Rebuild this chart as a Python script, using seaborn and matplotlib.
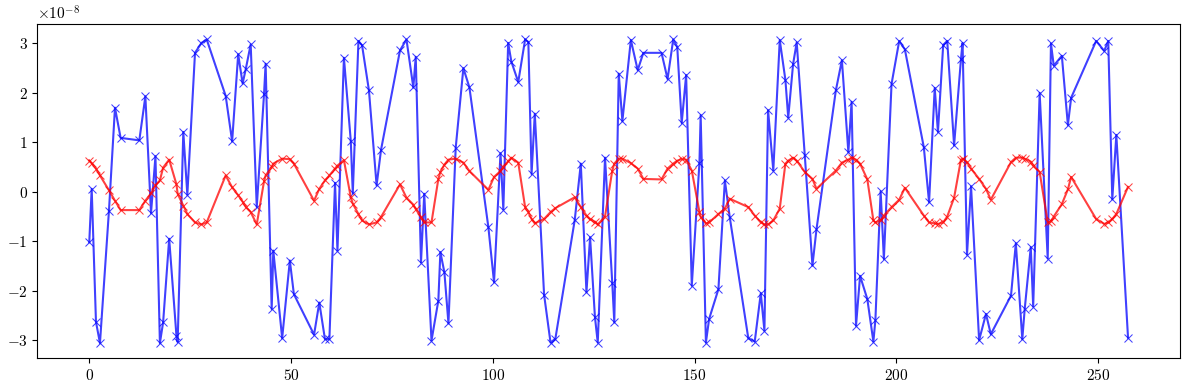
import numpy as np
import pandas as pd
import matplotlib
matplotlib.use("Agg")
import matplotlib.pyplot as plt
import seaborn as sns

SCALE = 1e-8
x_vals = [0.0, 0.6, 1.66, 2.65, 4.88, 6.37, 7.77, 12.4, 13.9, 15.3, 16.4, 17.5, 18.3, 19.8, 21.6, 21.9,
          23.3, 24.3, 26.2, 27.8, 29.1, 33.8, 35.4, 36.9, 38.0, 38.8, 40.0, 41.5, 43.3, 43.7, 45.2, 45.6,
          47.8, 49.7, 50.7, 55.7, 57.0, 58.4, 59.5, 60.9, 61.5, 63.1, 64.8, 65.3, 66.7, 67.6, 69.3, 71.2,
          72.3, 77.0, 78.6, 80.3, 80.9, 82.2, 83.0, 84.8, 86.5, 87.0, 88.0, 89.0, 90.8, 92.7, 94.2, 98.9,
          100.3, 101.9, 102.6, 103.8, 104.6, 106.3, 108.0, 108.8, 109.6, 110.4, 112.7, 114.3, 115.5, 120.3,
          121.8, 123.2, 124.1, 125.3, 126.0, 127.8, 129.6, 130.1, 131.2, 132.1, 134.2, 135.9, 137.3, 141.8,
          143.3, 144.7, 145.7, 146.8, 147.9, 149.3, 151.2, 151.5, 152.8, 153.6, 155.9, 157.5, 158.7, 163.3,
          164.9, 166.4, 167.3, 168.2, 169.5, 171.1, 172.5, 173.2, 174.4, 175.3, 177.3, 179.2, 180.2, 185.0,
          186.5, 188.1, 188.9, 190.0, 191.0, 192.8, 194.3, 194.8, 196.1, 196.9, 198.8, 200.7, 202.1, 206.8,
          208.1, 209.5, 210.3, 211.6, 212.6, 214.3, 216.0, 216.4, 217.5, 218.5, 220.5, 222.2, 223.4, 228.4,
          229.6, 231.2, 231.8, 233.3, 233.9, 235.5, 237.5, 238.3, 239.0, 241.0, 242.5, 243.3, 249.5, 251.5,
          252.5, 253.5, 254.5, 257.4]
blue_vals = [-1.02, 0.06, -2.63, -3.06, -0.38, 1.70, 1.09, 1.04, 1.93, -0.43, 0.72, -3.06, -2.64, -0.95, -2.91, -3.04,
             1.21, -0.06, 2.81, 3.01, 3.08, 1.94, 1.02, 2.78, 2.19, 2.49, 2.98, -0.31, 1.97, 2.59, -2.37, -1.19,
             -2.96, -1.39, -2.07, -2.89, -2.24, -2.98, -2.98, 0.18, -1.19, 2.71, 1.03, -0.03, 3.05, 2.96, 2.05, 0.13,
             0.85, 2.86, 3.08, 2.11, 2.73, -1.43, -0.04, -3.01, -2.20, -1.22, -1.63, -2.66, 0.89, 2.50, 2.11, -0.72,
             -1.83, 0.78, -0.36, 3.01, 2.63, 2.22, 3.08, 3.03, 0.36, 1.58, -2.08, -3.05, -2.97, -0.57,
             0.57, -2.03, -0.92, -2.53, -3.05, 0.69, -1.85, -2.64, 2.39, 1.43, 3.07, 2.46, 2.81, 2.81,
             2.28, 3.08, 2.93, 1.39, 2.36, -1.90, 0.59, 1.55, -3.05, -2.57, -1.97, 0.23, -0.51, -2.96,
             -3.03, -2.05, -2.81, 1.65, 0.43, 3.07, 2.26, 1.50, 2.58, 3.02, 0.74, -1.49, -0.76, 2.05,
             2.66, 0.80, 1.82, -2.71, -1.70, -2.17, -3.03, -2.59, 0.01, -1.36, 2.18, 3.05, 2.88, 0.90,
             -0.21, 2.10, 1.21, 2.97, 3.05, 0.94, 2.68, 3.01, -1.27, 0.11, -3.00, -2.47, -2.88, -2.10,
             -1.04, -2.98, -2.37, -1.12, -2.32, 2.00, -1.35, 3.00, 2.55, 2.75, 1.35, 1.90, 3.05, 2.85,
             3.05, -0.15, 1.15, -2.95]
red_vals = [0.63, 0.58, 0.47, 0.33, 0.03, -0.18, -0.37, -0.37, -0.18, -0.03, 0.13, 0.23, 0.49, 0.65, 0.15, -0.04,
            -0.28, -0.45, -0.62, -0.66, -0.62, 0.33, 0.09, -0.07, -0.20, -0.31, -0.41, -0.66, 0.21, 0.33, 0.50, 0.57,
            0.67, 0.66, 0.57, -0.18, 0.06, 0.23, 0.33, 0.47, 0.53, 0.64, -0.11, -0.24, -0.45, -0.58, -0.66, -0.62,
            -0.51, 0.15, -0.12, -0.26, -0.35, -0.51, -0.62, -0.62, 0.26, 0.40, 0.55, 0.65, 0.67, 0.59, 0.42, 0.04,
            0.30, 0.42, 0.51, 0.62, 0.69, 0.59, -0.31, -0.41, -0.55, -0.64, -0.55, -0.41, -0.33, -0.11,
            -0.31, -0.48, -0.55, -0.62, -0.66, -0.50, 0.43, 0.57, 0.67, 0.67, 0.58, 0.47, 0.26, 0.25,
            0.47, 0.57, 0.63, 0.66, 0.65, 0.43, -0.41, -0.51, -0.64, -0.62, -0.45, -0.34, -0.14, -0.31,
            -0.48, -0.62, -0.66, -0.66, -0.58, -0.34, 0.57, 0.63, 0.69, 0.63, 0.40, 0.26, 0.06, 0.43,
            0.59, 0.65, 0.69, 0.65, 0.57, 0.25, -0.58, -0.62, -0.58, -0.48, -0.31, -0.16, 0.08, -0.48,
            -0.62, -0.64, -0.65, -0.62, -0.50, -0.12, 0.65, 0.67, 0.60, 0.47, 0.26, 0.06, -0.16, 0.60,
            0.69, 0.69, 0.67, 0.61, 0.53, 0.40, -0.62, -0.60, -0.50, -0.25, 0.05, 0.30, -0.55, -0.65,
            -0.62, -0.55, -0.45, 0.10]

plt.rcParams['mathtext.fontset'] = 'cm'
plt.rcParams['font.family'] = 'serif'
plt.rcParams['font.serif'] = ['cmr10', 'DejaVu Serif']
plt.rcParams['axes.formatter.use_mathtext'] = True
plt.rcParams['axes.unicode_minus'] = True

df = pd.DataFrame({'x': x_vals,
                   'blue': np.array(blue_vals) * SCALE,
                   'red': np.array(red_vals) * SCALE})

fig, ax = plt.subplots(figsize=(11.89, 3.90), dpi=100)
sns.lineplot(data=df, x='x', y='blue', ax=ax, color='blue', alpha=0.75, marker='x',
             markersize=6, markeredgecolor='blue', linewidth=1.5, estimator=None, sort=False)
sns.lineplot(data=df, x='x', y='red', ax=ax, color='red', alpha=0.75, marker='x',
             markersize=6, markeredgecolor='red', linewidth=1.5, estimator=None, sort=False)
ax.set_xlabel('')
ax.set_ylabel('')
ax.set_xticks([0, 50, 100, 150, 200, 250])
ax.tick_params(labelsize=11)
ax.yaxis.get_offset_text().set_fontsize(11)
fig.subplots_adjust(left=0.0314, right=0.9924, top=0.9377, bottom=0.0813)
fig.savefig('out.png', dpi=100)
